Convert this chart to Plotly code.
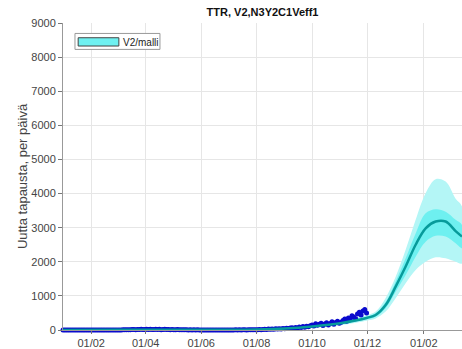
import pandas as pd
import plotly.graph_objects as go

# havaitut tapaukset, joka toinen päivä 1.1.2020 alkaen
havaitut = [0, 0, 0, 0, 0, 0, 0, 0, 0, 0, 0, 0, 0, 0, 0, 0,
            0, 0, 0, 0, 0, 0, 0, 0, 0, 0, 0, 1, 0, 2,
            1, 3, 2, 5, 4, 8, 10, 6, 12, 15, 9, 18, 14, 20, 11, 16,
            22, 14, 25, 18, 12, 20, 16, 24, 10, 15, 19, 12, 17, 8, 14,
            10, 6, 12, 8, 5, 9, 4, 7, 3, 6, 2, 5, 3, 4, 2,
            2, 1, 3, 1, 2, 0, 1, 2, 1, 0, 1, 2, 1, 3, 2,
            1, 2, 3, 2, 4, 3, 5, 2, 6, 4, 3, 7, 5, 8, 6, 9,
            10, 14, 8, 18, 22, 15, 26, 20, 30, 24, 35, 28, 40, 32, 45,
            38, 50, 42, 58, 66, 52, 75, 60, 88, 70, 100, 82, 112, 95, 125,
            150, 120, 180, 140, 165, 200, 130, 175, 210, 150, 190, 240, 170, 220, 260, 200,
            230, 280, 320, 260, 350, 300, 420, 380, 330, 470, 520, 440, 560, 600, 500]
havaitut_pvm = pd.date_range("2020-01-01", periods=len(havaitut), freq="2D")

# mallin ennuste
malli_pvm = ["2020-01-01", "2020-03-01", "2020-05-01", "2020-07-01", "2020-08-01",
             "2020-09-01", "2020-10-01", "2020-11-01", "2020-12-01", "2020-12-10",
             "2020-12-21", "2021-01-01", "2021-01-12", "2021-01-23", "2021-02-03",
             "2021-02-14", "2021-02-25", "2021-03-08", "2021-03-15"]
mediaani = [0, 4, 8, 6, 15, 45, 105, 200, 360, 440, 730, 1270, 1860, 2500, 2980, 3180, 3180, 2900, 2740]
sis_ala = [0, 2, 5, 4, 10, 35, 85, 170, 320, 390, 640, 1120, 1610, 2150, 2590, 2760, 2740, 2540, 2400]
sis_yla = [0, 6, 11, 8, 20, 55, 125, 230, 400, 490, 820, 1420, 2100, 2830, 3420, 3540, 3470, 3230, 3080]
ulk_ala = [0, 0, 3, 2, 6, 25, 65, 140, 280, 340, 540, 930, 1370, 1760, 2000, 2130, 2100, 2000, 1950]
ulk_yla = [0, 8, 14, 10, 26, 65, 150, 265, 440, 540, 940, 1560, 2350, 3230, 4010, 4420, 4350, 3850, 3620]

fig = go.Figure()

# ulompi ja sisempi vyö
fig.add_trace(go.Scatter(x=malli_pvm + malli_pvm[::-1], y=ulk_yla + ulk_ala[::-1],
                         fill="toself", fillcolor="#B4F6F6", line=dict(width=0, shape="spline"),
                         mode="lines", showlegend=False, hoverinfo="skip"))
fig.add_trace(go.Scatter(x=malli_pvm + malli_pvm[::-1], y=sis_yla + sis_ala[::-1],
                         fill="toself", fillcolor="#6EF0F0", line=dict(width=0, shape="spline"),
                         mode="lines", showlegend=False, hoverinfo="skip"))
fig.add_trace(go.Scatter(x=havaitut_pvm, y=havaitut, mode="markers",
                         marker=dict(color="#0A0ACD", size=5), showlegend=False, cliponaxis=False))
fig.add_trace(go.Scatter(x=malli_pvm, y=mediaani, mode="lines",
                         line=dict(color="#079B9B", width=2.5, shape="spline"),
                         showlegend=False, cliponaxis=False))

# selite piirretään käsin: laatikko, väripalkki ja teksti
fig.add_shape(type="rect", xref="paper", yref="paper", x0=0.030, x1=0.243, y0=0.914, y1=0.966,
              line=dict(color="#999999", width=1), fillcolor="white", layer="above")
fig.add_shape(type="rect", xref="paper", yref="paper", x0=0.038, x1=0.140, y0=0.925, y1=0.952,
              line=dict(color="#444444", width=1), fillcolor="#6EF0F0", layer="above")
fig.add_annotation(text="V2/malli", xref="paper", yref="paper", x=0.145, y=0.938,
                   xanchor="left", yanchor="middle", showarrow=False,
                   font=dict(size=10, color="#222222"))

fig.update_layout(
    width=462, height=349,
    margin=dict(l=63, r=0, t=23, b=19),
    paper_bgcolor="white", plot_bgcolor="white", showlegend=False,
    font=dict(family="Liberation Sans, Arial, sans-serif", size=11, color="#444444"),
    title=dict(text="<b>TTR, V2,N3Y2C1Veff1</b>", x=0.5, xref="paper", xanchor="center",
               y=0.975, yanchor="top", font=dict(size=11, color="#111111")),
)
fig.update_xaxes(range=["2020-01-01", "2021-03-15"], tickformat="%d/%m", dtick="M2",
                 tick0="2020-02-01", ticks="outside", ticklen=3, tickcolor="#777777",
                 showline=True, linecolor="#999999", gridcolor="#E6E6E6", showgrid=True,
                 zeroline=False)
fig.update_yaxes(range=[0, 9000], dtick=1000, ticks="outside", ticklen=4, tickcolor="#777777",
                 showline=True, linecolor="#999999", gridcolor="#E6E6E6", zeroline=False,
                 title=dict(text="Uutta tapausta, per päivä", standoff=0))

fig.write_html("out.html", config={"displayModeBar": False},
               post_script="document.body.style.margin='0';")
